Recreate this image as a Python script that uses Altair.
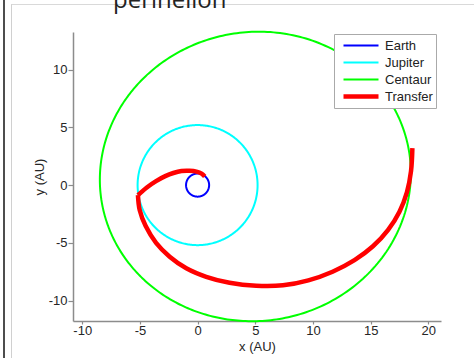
import altair as alt
import numpy as np
import pandas as pd

# ---- legend / styling categories ----
bodies = ["Earth", "Jupiter", "Centaur", "Transfer"]
body_colors = ["#0000ff", "#00ffff", "#00ff00", "#ff0000"]
body_widths = [2, 2, 2, 4.5]

# ---- orbital elements (AU, degrees) ----
orbit_names = ["Earth", "Jupiter", "Centaur"]
orbit_a = [1.0, 5.2, 13.5]
orbit_e = [0.0, 0.0, 0.375]
orbit_peri_deg = [0.0, 0.0, 188.5]

# ---- transfer trajectory, points ----
leg1_x = [0.62, 0.35, -0.1, -0.7, -1.4, -2.1, -2.8, -3.6, -4.4, -5.17]
leg1_y = [0.75, 1.0, 1.17, 1.24, 1.22, 1.05, 0.78, 0.35, -0.2, -0.87]
leg2_x = [-5.17, -5.02, -4.5, -3.6, -2.42, -0.98, 0.75, 2.77, 5.08, 7.4,
          9.6, 11.7, 13.6, 15.2, 16.5, 17.5, 18.15, 18.5, 18.62]
leg2_y = [-0.87, -2.16, -3.55, -5.0, -6.2, -7.2, -7.94, -8.46, -8.72, -8.68,
          -8.25, -7.5, -6.5, -5.3, -3.9, -2.3, -0.6, 1.2, 3.2]

x_ticks = [-10, -5, 0, 5, 10, 15, 20]
y_ticks = [-10, -5, 0, 5, 10]
x_domain = [-10.8, 21.1]
y_domain = [-11.77, 13.26]

# ---- build tables ----
rows = []
nu = np.linspace(0, 2 * np.pi, 361)
for name, a, e, w in zip(orbit_names, orbit_a, orbit_e, orbit_peri_deg):
    r = a * (1 - e ** 2) / (1 + e * np.cos(nu))
    th = nu + np.deg2rad(w)
    for i, (xx, yy) in enumerate(zip(r * np.cos(th), r * np.sin(th))):
        rows.append({"body": name, "seg": name, "idx": i, "x": xx, "y": yy})
orbits = pd.DataFrame(rows)

trows = []
for seg, xs, ys in [("leg1", leg1_x, leg1_y), ("leg2", leg2_x, leg2_y)]:
    for i, (xx, yy) in enumerate(zip(xs, ys)):
        trows.append({"body": "Transfer", "seg": seg, "idx": i, "x": xx, "y": yy})
transfer = pd.DataFrame(trows)

legend = alt.Legend(
    orient="none", legendX=261, legendY=2,
    symbolType="stroke", symbolSize=1225, clipHeight=17, rowPadding=0,
    labelFont="Liberation Sans", labelFontSize=13, labelColor="#222222",
    labelOffset=4, symbolOffset=4, padding=3,
    strokeColor="#aaaaaa", fillColor="white",
)

x_enc = alt.X("x:Q", scale=alt.Scale(domain=x_domain, nice=False, zero=False),
              axis=alt.Axis(values=x_ticks, title="x (AU)", grid=False,
                            tickSize=3, labelPadding=0, titlePadding=3,
                            labelExpr="'' + datum.value"))
y_enc = alt.Y("y:Q", scale=alt.Scale(domain=y_domain, nice=False, zero=False),
              axis=alt.Axis(values=y_ticks, title="y (AU)", grid=False,
                            tickSize=5, labelPadding=1, titlePadding=2,
                            labelExpr="'' + datum.value"))
color_enc = alt.Color("body:N", scale=alt.Scale(domain=bodies, range=body_colors),
                      title=None, legend=legend)
width_enc = alt.StrokeWidth("body:N",
                            scale=alt.Scale(type="ordinal", domain=bodies, range=body_widths),
                            title=None, legend=legend)

orbit_layer = alt.Chart(orbits).mark_line(interpolate="linear").encode(
    x=x_enc, y=y_enc, color=color_enc, strokeWidth=width_enc,
    detail="seg:N", order="idx:Q")

transfer_layer = alt.Chart(transfer).mark_line(interpolate="catmull-rom").encode(
    x=x_enc, y=y_enc, color=color_enc, strokeWidth=width_enc,
    detail="seg:N", order="idx:Q")

one = alt.Data(values=[{"t": "perihelion"}])
# slide-frame decoration and clipped title (pixel positions relative to plot area)
frame_dark = alt.Chart(one).mark_rule(color="#4d4d4d", strokeWidth=2).encode(
    x=alt.value(-69), y=alt.value(-32), y2=alt.value(326))
frame_v = alt.Chart(one).mark_rule(color="#d0d0d0", strokeWidth=1).encode(
    x=alt.value(-61.5), y=alt.value(-28), y2=alt.value(326))
frame_h = alt.Chart(one).mark_rule(color="#d9d9d9", strokeWidth=1).encode(
    x=alt.value(-61.5), x2=alt.value(401), y=alt.value(-27.5))
title_txt = alt.Chart(one).mark_text(
    font="Open Sans", fontSize=24, color="#222222", align="left",
    baseline="alphabetic").encode(
    x=alt.value(40), y=alt.value(-24), text="t:N")

chart = alt.layer(frame_dark, frame_v, frame_h, title_txt, orbit_layer, transfer_layer).properties(
    width=368, height=289,
    autosize=alt.AutoSizeParams(type="none"),
    padding={"left": 73, "top": 32, "right": 33, "bottom": 37},
    background="white",
).configure_view(stroke=None).configure_axis(
    labelFont="Liberation Sans", labelFontSize=13, labelColor="#262626",
    titleFont="Liberation Sans", titleFontSize=13, titleFontWeight="normal",
    titleColor="#262626", domainColor="#8c8c8c", tickColor="#8c8c8c",
    domainWidth=1.5, tickWidth=1.2,
)

chart.save("out.html", embed_options={"renderer": "svg", "actions": False})
